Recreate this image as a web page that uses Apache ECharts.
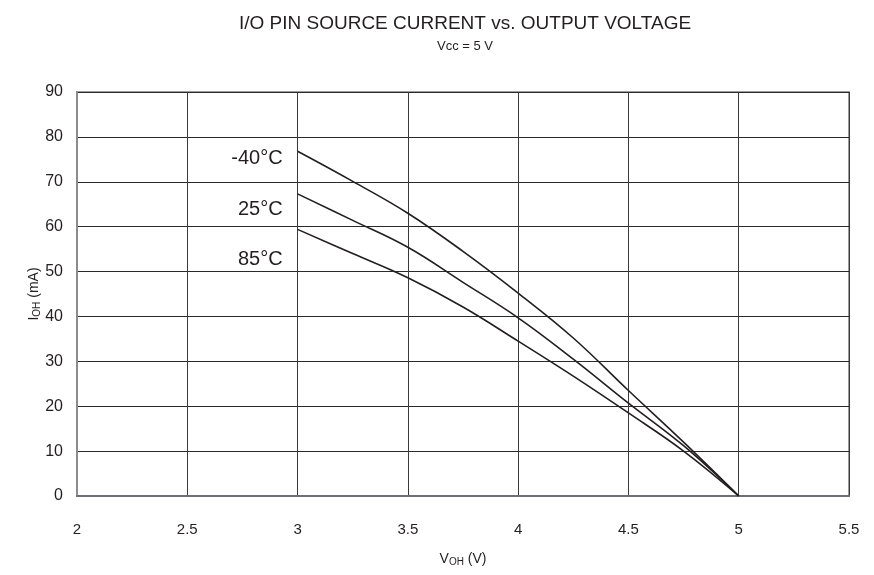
<!DOCTYPE html>
<html>
<head>
<meta charset="utf-8">
<script src="https://cdn.jsdelivr.net/npm/echarts@6/dist/echarts.min.js"></script>
<style>
html,body{margin:0;padding:0;background:#fff;}
#chart{width:874px;height:575px;}
</style>
</head>
<body>
<div id="chart"></div>
<script>
// Data
const voltages = [3, 3.25, 3.5, 3.75, 4, 4.25, 4.5, 4.75, 5];
const currentMinus40 = [76.8, 70.1, 63.0, 54.5, 45.2, 35.2, 23.5, 12.0, 0];
const current25 = [67.3, 61.4, 55.4, 47.6, 39.7, 30.5, 20.7, 11.2, 0];
const current85 = [59.4, 54.0, 48.6, 42.1, 34.5, 26.7, 18.5, 10.0, 0];
const seriesNames = ['-40°C', '25°C', '85°C'];
const xTicks = [2, 2.5, 3, 3.5, 4, 4.5, 5, 5.5];
const yTicks = [0, 10, 20, 30, 40, 50, 60, 70, 80, 90];

const FONT = '"Liberation Sans", Arial, Helvetica, sans-serif';
const chart = echarts.init(document.getElementById('chart'), null, {renderer: 'canvas'});

function mk(values) { return voltages.map((v, i) => [v, values[i]]); }
const allValues = [currentMinus40, current25, current85];

const series = allValues.map((vals, k) => ({
  name: seriesNames[k],
  type: 'line',
  data: mk(vals),
  smooth: 0.4,
  showSymbol: false,
  symbol: 'none',
  lineStyle: {color: '#231f20', width: 1.6},
  silent: true,
  animation: false
}));

chart.setOption({
  backgroundColor: '#fff',
  animation: false,
  title: {
    text: 'I/O PIN SOURCE CURRENT vs. OUTPUT VOLTAGE',
    subtext: 'Vcc = 5 V',
    left: 460,
    textAlign: 'center',
    top: 9,
    itemGap: 7,
    textStyle: {fontFamily: FONT, fontSize: 19, fontWeight: 'normal', color: '#231f20'},
    subtextStyle: {fontFamily: FONT, fontSize: 13, color: '#231f20'}
  },
  grid: {left: 77, right: 25, top: 92, bottom: 79, show: true, borderColor: '#9a9c9f', borderWidth: 2, backgroundColor: 'transparent'},
  xAxis: {
    type: 'value',
    min: xTicks[0],
    max: xTicks[xTicks.length - 1],
    interval: 0.5,
    name: 'V{sub|OH} (V)',
    nameLocation: 'middle',
    nameGap: 55,
    nameTextStyle: {
      fontFamily: FONT, fontSize: 14, color: '#231f20',
      rich: {sub: {fontFamily: FONT, fontSize: 10, color: '#231f20', padding: [6, 0, 0, 0]}}
    },
    axisLine: {show: true, lineStyle: {color: '#6d6e71', width: 2}},
    axisTick: {show: false},
    axisLabel: {fontFamily: FONT, fontSize: 15, color: '#231f20', margin: 26},
    splitLine: {show: true, lineStyle: {color: '#3a3a3a', width: 1}}
  },
  yAxis: {
    type: 'value',
    min: yTicks[0],
    max: yTicks[yTicks.length - 1],
    interval: 10,
    name: 'I{sub|OH} (mA)',
    nameLocation: 'middle',
    nameRotate: 90,
    nameGap: 35,
    nameMoveOverlap: false,
    nameTextStyle: {
      fontFamily: FONT, fontSize: 14, color: '#231f20',
      rich: {sub: {fontFamily: FONT, fontSize: 10, color: '#231f20', padding: [6, 0, 0, 0]}}
    },
    axisLine: {show: true, lineStyle: {color: '#8a8c8f', width: 2}},
    axisTick: {show: false},
    axisLabel: {fontFamily: FONT, fontSize: 16, color: '#231f20', margin: 14},
    splitLine: {show: true, lineStyle: {color: '#2a2a2a', width: 1}}
  },
  series: series
});

// Curve labels placed relative to each curve's first point
const labelShift = [7, 16, 30];
const graphics = allValues.map((vals, k) => {
  const p = chart.convertToPixel({gridIndex: 0}, [voltages[0], vals[0]]);
  return {
    type: 'text',
    x: p[0] - 15,
    y: p[1] + labelShift[k],
    silent: true,
    style: {
      text: seriesNames[k],
      fontFamily: FONT,
      fontSize: 20,
      fill: '#231f20',
      align: 'right',
      verticalAlign: 'middle'
    }
  };
});
chart.setOption({graphic: graphics});
</script>
</body>
</html>
